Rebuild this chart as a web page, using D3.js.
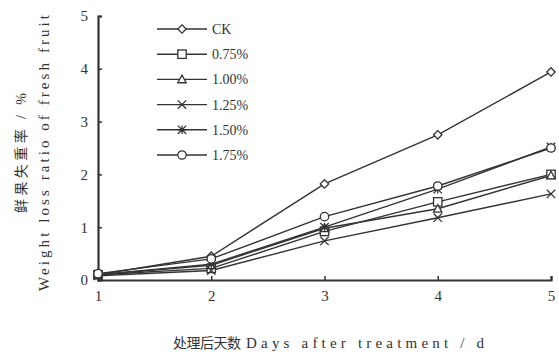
<!DOCTYPE html>
<html>
<head>
<meta charset="utf-8">
<script src="https://cdn.jsdelivr.net/npm/d3@7"></script>
<style>
  body { margin: 0; background: #fff; }
  svg { display: block; }
  text { font-family: "Liberation Serif", "DejaVu Serif", serif; fill: #333; }
  .cjk { font-family: "Noto Sans CJK SC", sans-serif; }
</style>
</head>
<body>
<svg id="chart"></svg>
<script>
// days after treatment
const days = [1, 2, 3, 4, 5];
const seriesNames = ['CK', '0.75%', '1.00%', '1.25%', '1.50%', '1.75%'];
const markerTypes = ['diamond', 'square', 'triangle', 'cross', 'asterisk', 'circle'];
// weight loss ratio (%)
const ck = [0.10, 0.45, 1.82, 2.75, 3.94];
const c075 = [0.10, 0.22, 0.92, 1.48, 2.00];
const c100 = [0.10, 0.28, 0.98, 1.35, 1.98];
const c125 = [0.08, 0.18, 0.74, 1.18, 1.63];
const c150 = [0.10, 0.30, 1.00, 1.72, 2.52];
const c175 = [0.12, 0.40, 1.20, 1.78, 2.50];
const yTicks = [0, 1, 2, 3, 4, 5];

const allSeries = [ck, c075, c100, c125, c150, c175];

const width = 559, height = 358;
const margin = {left: 98, right: 8, top: 16, bottom: 78};
const ink = '#333';

const svg = d3.select('#chart').attr('width', width).attr('height', height);

const x = d3.scaleLinear().domain([1, 5]).range([margin.left, width - margin.right]);
const y = d3.scaleLinear().domain([0, 5]).range([height - margin.bottom, margin.top]);

// axes
const xAxis = svg.append('g')
  .attr('transform', `translate(0,${y(0)})`)
  .call(d3.axisBottom(x).tickValues(days).tickSize(-4).tickPadding(10).tickFormat(d3.format('d')));
const yAxis = svg.append('g')
  .attr('transform', `translate(${x(1)},0)`)
  .call(d3.axisLeft(y).tickValues(yTicks).tickSize(-4).tickPadding(10).tickFormat(d3.format('d')));
[xAxis, yAxis].forEach(a => {
  a.select('.domain').attr('stroke', ink).attr('stroke-width', 2.2);
  a.selectAll('.tick line').attr('stroke', ink).attr('stroke-width', 1.5);
  a.selectAll('.tick text').attr('font-size', 15).attr('fill', ink)
    .style('font-family', '"Liberation Serif", serif');
});
yAxis.selectAll('.tick text').attr('dy', '0.32em');

// markers
function marker(g, type, cx, cy) {
  const s = 4.2;
  let el;
  if (type === 'diamond') {
    el = g.append('path').attr('d', `M${cx - s},${cy}L${cx},${cy - s}L${cx + s},${cy}L${cx},${cy + s}Z`);
  } else if (type === 'square') {
    el = g.append('rect').attr('x', cx - s).attr('y', cy - s).attr('width', 2 * s).attr('height', 2 * s);
  } else if (type === 'triangle') {
    el = g.append('path').attr('d', `M${cx - s},${cy + s * 0.8}L${cx},${cy - s}L${cx + s},${cy + s * 0.8}Z`);
  } else if (type === 'cross') {
    el = g.append('path').attr('d', `M${cx - s},${cy - s}L${cx + s},${cy + s}M${cx - s},${cy + s}L${cx + s},${cy - s}`);
  } else if (type === 'asterisk') {
    el = g.append('path').attr('d', `M${cx - s},${cy - s}L${cx + s},${cy + s}M${cx - s},${cy + s}L${cx + s},${cy - s}M${cx},${cy - s}L${cx},${cy + s}M${cx - s},${cy}L${cx + s},${cy}`);
  } else {
    el = g.append('circle').attr('cx', cx).attr('cy', cy).attr('r', s);
  }
  el.attr('stroke', ink).attr('stroke-width', 1.3)
    .attr('fill', (type === 'cross' || type === 'asterisk') ? 'none' : '#fff');
}

const line = d3.line().x((d, i) => x(days[i])).y(d => y(d));

const plot = svg.append('g');
allSeries.forEach(vals => {
  plot.append('path').datum(vals)
    .attr('d', line).attr('fill', 'none').attr('stroke', ink).attr('stroke-width', 1.4);
});
allSeries.forEach((vals, si) => {
  const g = plot.append('g');
  vals.forEach((v, i) => marker(g, markerTypes[si], x(days[i]), y(v)));
});

// legend
const legend = svg.append('g');
seriesNames.forEach((name, i) => {
  const ly = 29 + i * 25.2;
  legend.append('line').attr('x1', 157).attr('x2', 207).attr('y1', ly).attr('y2', ly)
    .attr('stroke', ink).attr('stroke-width', 1.4);
  marker(legend.append('g'), markerTypes[i], 182, ly);
  legend.append('text').attr('x', 212).attr('y', ly).attr('dy', '0.35em')
    .attr('font-size', 14).text(name);
});

// axis titles
const midY = 153;
svg.append('text')
  .attr('transform', `translate(26,${midY}) rotate(-90)`)
  .attr('text-anchor', 'middle').attr('font-size', 14)
  .attr('textLength', 120).attr('lengthAdjust', 'spacing')
  .html('<tspan class="cjk" font-size="14">鲜果失重率</tspan> / %');
svg.append('text')
  .attr('transform', `translate(49,${midY}) rotate(-90)`)
  .attr('text-anchor', 'middle').attr('font-size', 15)
  .attr('textLength', 276).attr('lengthAdjust', 'spacing')
  .text('Weight loss ratio of fresh fruit');

svg.append('text').attr('class', 'cjk').attr('x', 173).attr('y', 348)
  .attr('font-size', 14).attr('textLength', 68).attr('lengthAdjust', 'spacing')
  .text('处理后天数');
svg.append('text').attr('x', 246).attr('y', 348)
  .attr('font-size', 15).attr('textLength', 238).attr('lengthAdjust', 'spacing')
  .text('Days after treatment / d');
</script>
</body>
</html>
